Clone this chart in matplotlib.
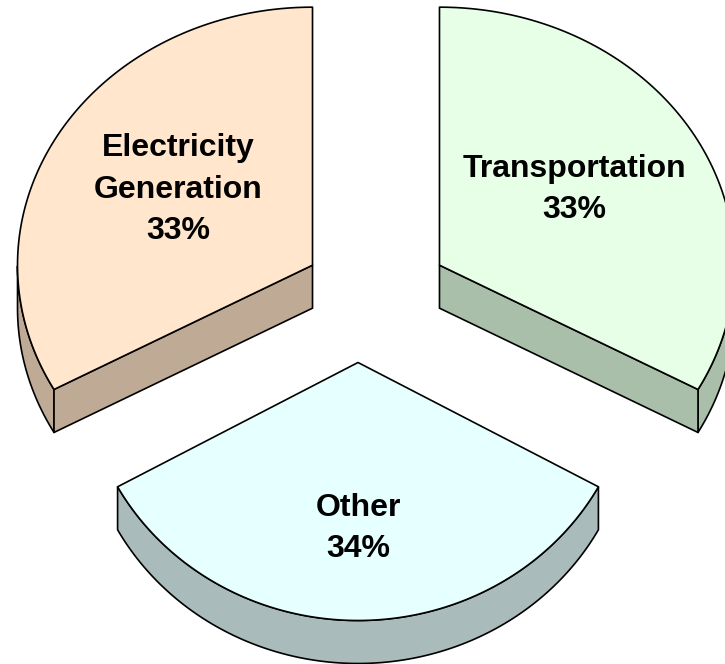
import numpy as np
import matplotlib.pyplot as plt
from matplotlib.patches import Polygon

# Data
labels = ['Transportation', 'Other', 'Electricity\nGeneration']
shares = [33, 34, 33]
topColors = ['#E6FFE6', '#E6FFFF', '#FFE6CC']
sideColors = ['#AABFAA', '#AABBBB', '#BFAA95']

# 3D layout (pixels)
cx, cy = 376, 298
rx, ry = 295, 258
depth = 43
explode = 0.25
# Excel's perspective makes the front slice a bit narrower and shifted left
frontScale = 0.93
frontShift = -18


def ell(theta, ox, oy, sx, dy=0.0):
    return np.column_stack([ox + sx*rx*np.cos(theta),
                            oy - ry*np.sin(theta) + dy])


fig = plt.figure(figsize=(7.25, 6.64), dpi=100)
ax = fig.add_axes([0, 0, 1, 1])
ax.set_xlim(0, 725)
ax.set_ylim(664, 0)
ax.axis('off')

total = float(sum(shares))
start = np.pi/2
edge = dict(edgecolor='black', linewidth=1.2, joinstyle='round')
for i, s in enumerate(shares):
    sweep = 2*np.pi*s/total
    t2 = start
    t1 = start - sweep
    start = t1
    mid = 0.5*(t1 + t2)
    front = np.sin(mid) < -0.9
    sx = frontScale if front else 1.0
    ox = cx + explode*rx*np.cos(mid) + (frontShift if front else 0)
    oy = cy - explode*ry*np.sin(mid)
    z = 2 - np.sin(mid)

    # outer side (only where it faces the viewer)
    ts = np.linspace(t1, t2, 300)
    vis = np.sin(ts) < 0
    if vis.any():
        tv = ts[vis]
        top = ell(tv, ox, oy, sx)
        bot = ell(tv[::-1], ox, oy, sx, depth)
        ax.add_patch(Polygon(np.vstack([top, bot]), closed=True,
                             facecolor=sideColors[i], zorder=z, **edge))
    # radial sides
    for t, nrm in [(t1, t1 - np.pi/2), (t2, t2 + np.pi/2)]:
        if np.sin(nrm) < -1e-6:
            p = ell(np.array([t]), ox, oy, sx)[0]
            pts = [[ox, oy], p, [p[0], p[1] + depth], [ox, oy + depth]]
            ax.add_patch(Polygon(pts, closed=True, facecolor=sideColors[i],
                                 zorder=z, **edge))
    # top face
    arc = ell(np.linspace(t1, t2, 300), ox, oy, sx)
    pts = np.vstack([[ox, oy], arc])
    ax.add_patch(Polygon(pts, closed=True, facecolor=topColors[i],
                         zorder=z + 0.1, **edge))

    pct = int(round(100*s/total))
    lx = ox + 0.53*sx*rx*np.cos(mid)
    ly = oy - 0.62*ry*np.sin(mid) + 6
    ax.text(lx, ly, '%s\n%d%%' % (labels[i], pct), ha='center', va='center',
            fontsize=23, fontweight='bold', family='Liberation Sans',
            linespacing=1.5, zorder=10)

plt.savefig('out.png', dpi=100)
